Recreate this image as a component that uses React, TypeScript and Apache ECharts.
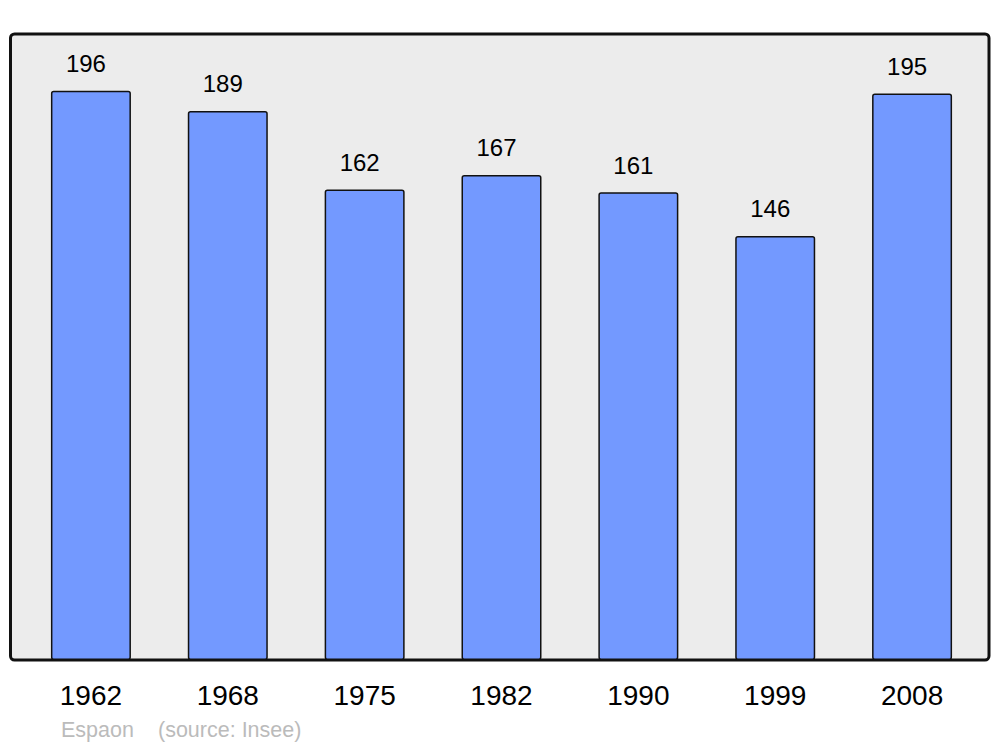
import React, { useEffect, useRef } from "react";
import * as echarts from "echarts";

const years = ["1962", "1968", "1975", "1982", "1990", "1999", "2008"];
const population = [196, 189, 162, 167, 161, 146, 195];
const townName = "Espaon";
const sourceText = "(source: Insee)";

export default function App() {
  const ref = useRef<HTMLDivElement>(null);
  useEffect(() => {
    document.body.style.margin = "0";
    const chart = echarts.init(ref.current!, null, { renderer: "svg" });
    chart.setOption({
      animation: false,
      backgroundColor: "#ffffff",
      textStyle: { fontFamily: "Liberation Sans, Arial, sans-serif" },
      grid: { left: 22.5, right: 19.5, top: 34, bottom: 87 },
      xAxis: {
        type: "category",
        data: years,
        axisLine: { show: false },
        axisTick: { show: false },
        axisLabel: { fontSize: 28, color: "#000", margin: 21, fontFamily: "Liberation Sans" },
        splitLine: { show: false },
      },
      yAxis: {
        type: "value",
        min: 0,
        max: 215.5,
        show: false,
        splitLine: { show: false },
      },
      graphic: [
        {
          type: "rect",
          z: -10,
          shape: { x: 10.5, y: 34, width: 978.5, height: 626, r: 4 },
          style: { fill: "#ececec", stroke: "#111", lineWidth: 3 },
        },
        {
          type: "text",
          x: 61,
          y: 730,
          style: { text: townName, fontSize: 21.5, fill: "#bbbbbb", fontFamily: "Liberation Sans", verticalAlign: "middle" },
        },
        {
          type: "text",
          x: 158,
          y: 730,
          style: { text: sourceText, fontSize: 21.5, fill: "#bbbbbb", fontFamily: "Liberation Sans", verticalAlign: "middle" },
        },
      ],
      series: [
        {
          type: "bar",
          data: population,
          barWidth: 80,
          itemStyle: { color: "#7399ff", borderColor: "#111", borderWidth: 1.5, borderRadius: 2 },
          label: {
            show: true,
            position: "top",
            distance: 15,
            offset: [-5, 0],
            fontSize: 24,
            color: "#000",
            fontFamily: "Liberation Sans",
          },
        },
      ],
    });
    return () => chart.dispose();
  }, []);
  return <div ref={ref} style={{ width: 1000, height: 747, position: "absolute", left: 0, top: 0 }} />;
}
